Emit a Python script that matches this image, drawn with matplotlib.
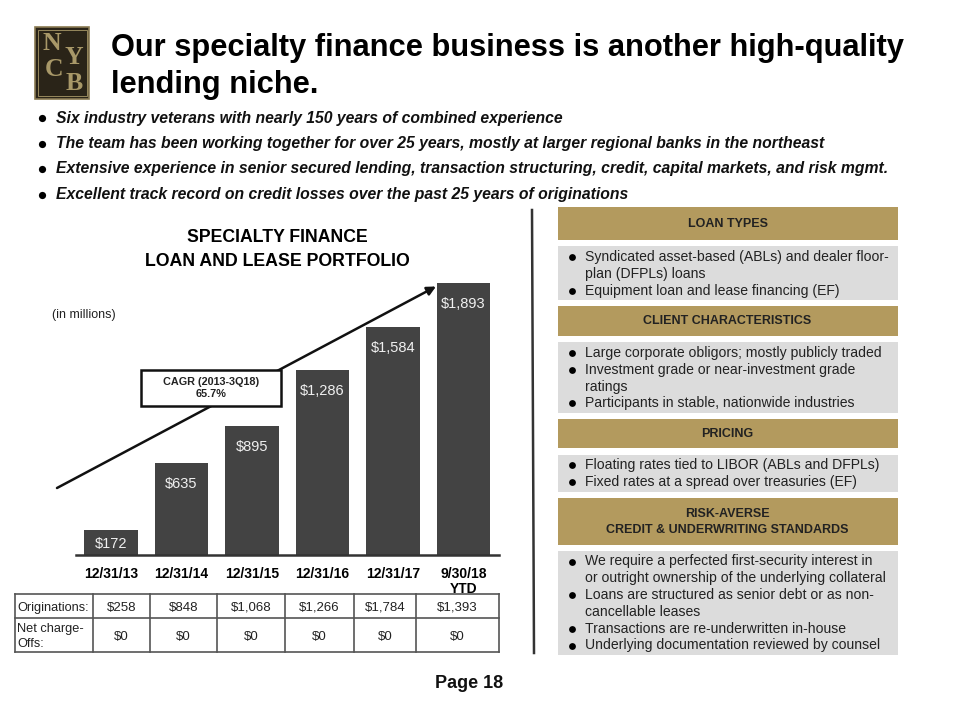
import matplotlib
matplotlib.use("Agg")
import matplotlib.pyplot as plt
from matplotlib.patches import Rectangle

plt.rcParams['font.family'] = ['Liberation Sans', 'DejaVu Sans']

dates = ['12/31/13', '12/31/14', '12/31/15', '12/31/16', '12/31/17', '9/30/18\nYTD']
portfolio = [172, 635, 895, 1286, 1584, 1893]
portfolio_labels = ['$172', '$635', '$895', '$1,286', '$1,584', '$1,893']
originations = ['$258', '$848', '$1,068', '$1,266', '$1,784', '$1,393']
charge_offs = ['$0', '$0', '$0', '$0', '$0', '$0']
title_lines = ['Our specialty finance business is another high-quality', 'lending niche.']
top_bullets = [
    'Six industry veterans with nearly 150 years of combined experience',
    'The team has been working together for over 25 years, mostly at larger regional banks in the northeast',
    'Extensive experience in senior secured lending, transaction structuring, credit, capital markets, and risk mgmt.',
    'Excellent track record on credit losses over the past 25 years of originations',
]
panel_heads = ['LOAN TYPES', 'CLIENT CHARACTERISTICS', 'PRICING', 'RISK-AVERSE\nCREDIT & UNDERWRITING STANDARDS']
panel_lines = [
    [('Syndicated asset-based (ABLs) and dealer floor-', 1), ('plan (DFPLs) loans', 0), ('Equipment loan and lease financing (EF)', 1)],
    [('Large corporate obligors; mostly publicly traded', 1), ('Investment grade or near-investment grade', 1), ('ratings', 0), ('Participants in stable, nationwide industries', 1)],
    [('Floating rates tied to LIBOR (ABLs and DFPLs)', 1), ('Fixed rates at a spread over treasuries (EF)', 1)],
    [('We require a perfected first-security interest in', 1), ('or outright ownership of the underlying collateral', 0), ('Loans are structured as senior debt or as non-', 1), ('cancellable leases', 0), ('Transactions are re-underwritten in-house', 1), ('Underlying documentation reviewed by counsel', 1)],
]
head_boxes = [(207, 240), (306, 336), (419, 448), (498, 545)]
body_boxes = [(246, 300), (342, 413), (455, 492), (551, 655)]
body_first_y = [257, 353, 465, 561.5]

GOLD = '#B39A5E'
GRAY = '#DCDCDC'
BAR = '#434343'
W, H = 960, 720

fig = plt.figure(figsize=(9.6, 7.2), dpi=100, facecolor='white')
pg = fig.add_axes([0, 0, 1, 1])
pg.set_xlim(0, W); pg.set_ylim(H, 0); pg.axis('off')

# Logo
pg.add_patch(Rectangle((35, 27), 54, 71.5, fc='#2A2418', ec='#8A7A52', lw=1.2))
pg.add_patch(Rectangle((37.5, 30), 49, 65.5, fc='none', ec='#A89868', lw=0.6))
for ch, x, y, s in [('N', 52, 44, 18.5), ('Y', 73.5, 57, 18.5), ('C', 54, 70, 18.5), ('B', 74.5, 83, 18.5)]:
    pg.text(x, y, ch, family='Liberation Serif', color='#A89868', fontsize=s, ha='center', va='center',
            fontweight='bold')

# Title
for t, y in zip(title_lines, [56, 93]):
    pg.text(111, y, t, fontsize=22.2, fontweight='bold', color='black', va='baseline', ha='left')

# Top bullets
for t, y in zip(top_bullets, [118, 143.5, 169, 195]):
    pg.plot([42], [y], 'o', ms=5.2, mew=0, color='black')
    pg.text(56, y, t, fontsize=11.35, fontweight='bold', fontstyle='italic', color='#111111', va='center')

# Chart heading
pg.text(277, 237, 'SPECIALTY FINANCE', fontsize=12.7, fontweight='bold', ha='center', va='center')
pg.text(277, 262, 'LOAN AND LEASE PORTFOLIO', fontsize=12.8, fontweight='bold', ha='center', va='center')
pg.text(52, 315, '(in millions)', fontsize=9, color='#222222', va='center')

# Bars
ax = fig.add_axes([75.7 / W, 1 - 554.5 / H, 423 / W, 271.5 / H])
ax.patch.set_alpha(0)
xs = list(range(len(portfolio)))
ax.bar(xs, portfolio, width=0.763, color=BAR)
ax.set_xlim(-0.5, 5.5)
ax.set_ylim(0, 1893)
for s in ['top', 'left', 'right']:
    ax.spines[s].set_visible(False)
ax.spines['bottom'].set_linewidth(1.8)
ax.spines['bottom'].set_color('#333333')
ax.set_yticks([])
ax.set_xticks(xs)
ax.set_xticklabels(dates, fontsize=10, fontweight='bold', linespacing=1.08)
ax.tick_params(axis='x', length=0, pad=9)
for x, v, lab in zip(xs, portfolio, portfolio_labels):
    off = -15 if v > 200 else -10
    ax.annotate(lab, (x, v), xytext=(0, off), textcoords='offset points', ha='center', va='center',
                color='#F0F0F0', fontsize=10.5)

# Overlay for arrow and callout
ov = fig.add_axes([0, 0, 1, 1])
ov.set_xlim(0, W); ov.set_ylim(H, 0); ov.axis('off')
ov.annotate('', xy=(436, 286.5), xytext=(57, 488),
            arrowprops=dict(arrowstyle='-|>', color='#111111', lw=1.8, mutation_scale=13, shrinkA=0, shrinkB=0),
            zorder=2)
ov.add_patch(Rectangle((141, 370), 140, 35.5, fc='white', ec='#111111', lw=1.8, zorder=5))
ov.text(211, 388, 'CAGR (2013-3Q18)\n65.7%', fontsize=7.8, fontweight='bold', ha='center', va='center',
        linespacing=1.2, zorder=6, color='#222222')

# Table
col_x = [15.3, 93.3, 150, 217.3, 284.7, 354.3, 415.7, 498.7]
row_y = [594.3, 618, 651.7]
for x in col_x:
    ov.plot([x, x], [row_y[0], row_y[-1]], color='#555555', lw=1.2, solid_capstyle='projecting')
for y in row_y:
    ov.plot([col_x[0], col_x[-1]], [y, y], color='#555555', lw=1.2, solid_capstyle='projecting')
ov.text(17, 607.5, 'Originations:', fontsize=9.2, color='#222222', va='center')
ov.text(17, 636.5, 'Net charge-\nOffs:', fontsize=9.2, color='#222222', va='center', linespacing=1.25)
for i in range(6):
    cx = (col_x[i + 1] + col_x[i + 2]) / 2
    ov.text(cx, 607.5, originations[i], fontsize=9.5, color='#222222', ha='center', va='center')
    ov.text(cx, 637, charge_offs[i], fontsize=9.5, color='#222222', ha='center', va='center')

# Divider
ov.plot([532, 534], [210, 653], color='#333333', lw=1.8)

# Right panels
for head, hb, bb, lines, y0 in zip(panel_heads, head_boxes, body_boxes, panel_lines, body_first_y):
    ov.add_patch(Rectangle((557.5, hb[0]), 340.5, hb[1] - hb[0], fc=GOLD, ec='none'))
    ov.add_patch(Rectangle((557.5, bb[0]), 340.5, bb[1] - bb[0], fc=GRAY, ec='none'))
    ov.text(727.5, (hb[0] + hb[1]) / 2 + 0.5, head, fontsize=9, fontweight='bold', color='#222222',
            ha='center', va='center', linespacing=1.4)
    for i, (t, bul) in enumerate(lines):
        y = y0 + i * 16.8
        if bul:
            ov.plot([571.5], [y], 'o', ms=4.9, mew=0, color='black')
        ov.text(585, y, t, fontsize=10.1, color='#222222', va='center')

ov.text(469, 684, 'Page 18', fontsize=13, fontweight='bold', ha='center', va='center', color='#111111')

fig.savefig('out.png', dpi=100)
